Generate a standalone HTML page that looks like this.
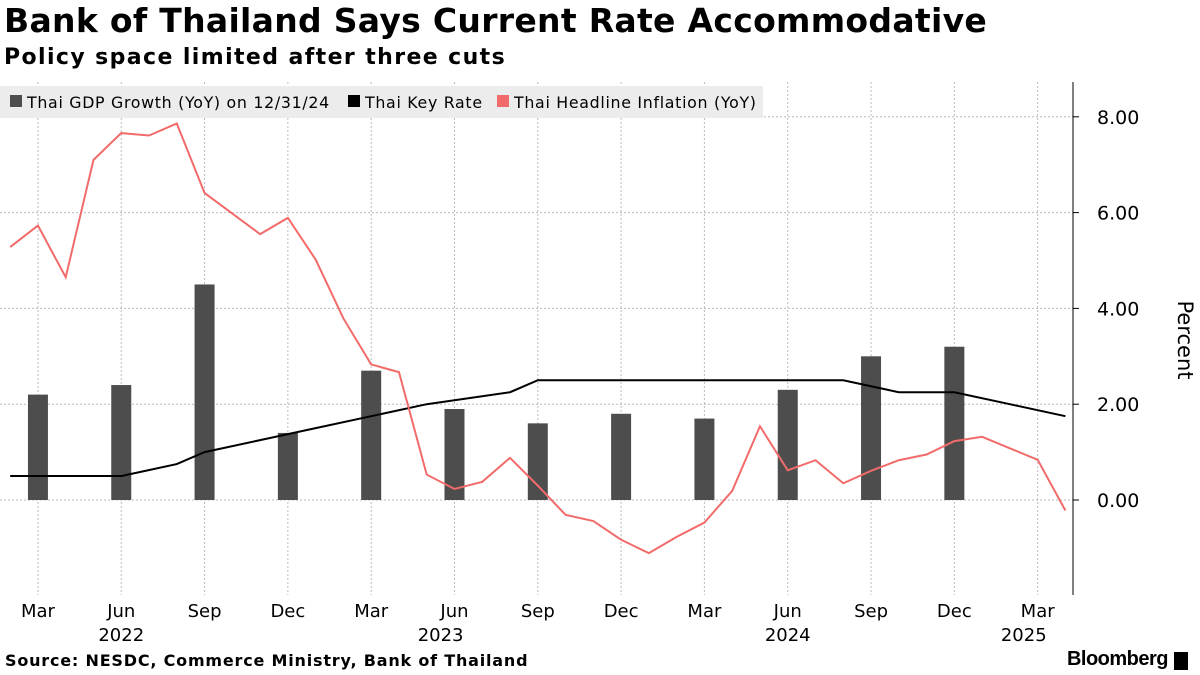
<!DOCTYPE html>
<html><head><meta charset="utf-8"><style>
body{margin:0;width:1200px;height:675px;background:#fff;font-family:"DejaVu Sans","Liberation Sans",sans-serif;overflow:hidden;position:relative}
.t{position:absolute;left:4px;top:1px;font-size:33px;font-weight:bold;color:#000;white-space:nowrap;letter-spacing:0.3px}
.s{position:absolute;left:4px;top:45px;font-size:22px;font-weight:bold;white-space:nowrap;letter-spacing:1.4px}
.src{position:absolute;left:5px;top:651px;font-size:16px;font-weight:bold;white-space:nowrap;letter-spacing:0.8px}
.bb{position:absolute;right:32px;top:648px;font-size:20px;font-weight:bold;letter-spacing:-0.5px;font-family:"Liberation Sans",sans-serif}
</style></head><body>
<div class="t">Bank of Thailand Says Current Rate Accommodative</div>
<div class="s">Policy space limited after three cuts</div>
<div class="src">Source: NESDC, Commerce Ministry, Bank of Thailand</div>
<div class="bb">Bloomberg</div>
<div style="position:absolute;right:12px;top:652px;width:14px;height:18px;background:#000"></div>
<svg id="c" width="1200" height="675" style="position:absolute;left:0;top:0"></svg>
<script>
const gdpQuarters=[2,5,8,11,14,17,20,23,26,29,32,35]; // month index from Jan 2022
const gdpValues=[2.2,2.4,4.5,1.4,2.7,1.9,1.6,1.8,1.7,2.3,3.0,3.2];
const inflStart=1;
const inflValues=[5.28,5.73,4.65,7.10,7.66,7.61,7.86,6.41,5.98,5.55,5.89,5.02,3.79,2.83,2.67,0.53,0.23,0.38,0.88,0.30,-0.31,-0.44,-0.83,-1.11,-0.77,-0.47,0.19,1.54,0.62,0.83,0.35,0.61,0.83,0.95,1.23,1.32,1.08,0.84,-0.22];
const rateMonths=[1,5,7,8,10,12,14,16,19,20,31,33,35,37,39];
const rateValues=[0.5,0.5,0.75,1.0,1.25,1.5,1.75,2.0,2.25,2.5,2.5,2.25,2.25,2.0,1.75];
const yTicks=[0,2,4,6,8];
const xLabels=[["Mar",2],["Jun",5],["Sep",8],["Dec",11],["Mar",14],["Jun",17],["Sep",20],["Dec",23],["Mar",26],["Jun",29],["Sep",32],["Dec",35],["Mar",38]];
const yearLabels=[["2022",5],["2023",16.5],["2024",29],["2025",37.5]];
const X=m=>-17.6+m*27.77;
const Y=v=>500-v*47.9;
const svg=document.getElementById('c');const NS='http://www.w3.org/2000/svg';
function mk(tag,a,name){const e=document.createElementNS(NS,tag);for(const k in a)e.setAttribute(k,a[k]);


svg.appendChild(e);return e;}
yTicks.forEach(v=>{mk('line',{x1:0,x2:1073,y1:Y(v),y2:Y(v),stroke:'#bbb','stroke-dasharray':'2,2'},'y-gridline');
mk('line',{x1:1073,x2:1079,y1:Y(v),y2:Y(v),stroke:'#000'},'y-tick');
const t=mk('text',{x:1097,y:Y(v)+7,'font-size':19,fill:'#000'},'y-tick-label');t.textContent=v.toFixed(2);});
xLabels.forEach(([l,m])=>{mk('line',{x1:X(m),x2:X(m),y1:82,y2:595,stroke:'#bbb','stroke-dasharray':'2,2'},'x-gridline');
const t=mk('text',{x:X(m),y:617,'font-size':18,'text-anchor':'middle'},'x-tick-label');t.textContent=l;});
yearLabels.forEach(([l,m])=>{const t=mk('text',{x:X(m),y:641,'font-size':18,'text-anchor':'middle'},'year-label');t.textContent=l;});
mk('line',{x1:1073,x2:1073,y1:82,y2:595,stroke:'#000'},'y-axis-line');
const pt=mk('text',{x:1178,y:340,'font-size':21,'text-anchor':'middle',transform:'rotate(90 1178 340)'},'y-axis-title');pt.textContent='Percent';
gdpQuarters.forEach((m,i)=>mk('rect',{x:X(m)-10,y:Y(gdpValues[i]),width:20,height:Y(0)-Y(gdpValues[i]),fill:'#4d4d4d'},'gdp-bar'));
mk('polyline',{points:rateMonths.map((m,i)=>X(m)+','+Y(rateValues[i])).join(' '),fill:'none',stroke:'#000','stroke-width':2},'key-rate-line');
mk('polyline',{points:inflValues.map((v,i)=>X(inflStart+i)+','+Y(v)).join(' '),fill:'none',stroke:'#f26b6b','stroke-width':2},'inflation-line');
mk('rect',{x:0,y:86,width:763,height:32,fill:'#ececec'},'legend-box');
[[10,'#4d4d4d','Thai GDP Growth (YoY) on 12/31/24'],[348,'#000','Thai Key Rate'],[497,'#f26b6b','Thai Headline Inflation (YoY)']].forEach(([x,c,l])=>{
mk('rect',{x:x,y:95,width:12,height:12,fill:c},'legend-swatch');
const t=mk('text',{x:x+17,y:108,'font-size':15.8,'letter-spacing':0.7},'legend-entry');t.textContent=l;});
</script>
</body></html>
